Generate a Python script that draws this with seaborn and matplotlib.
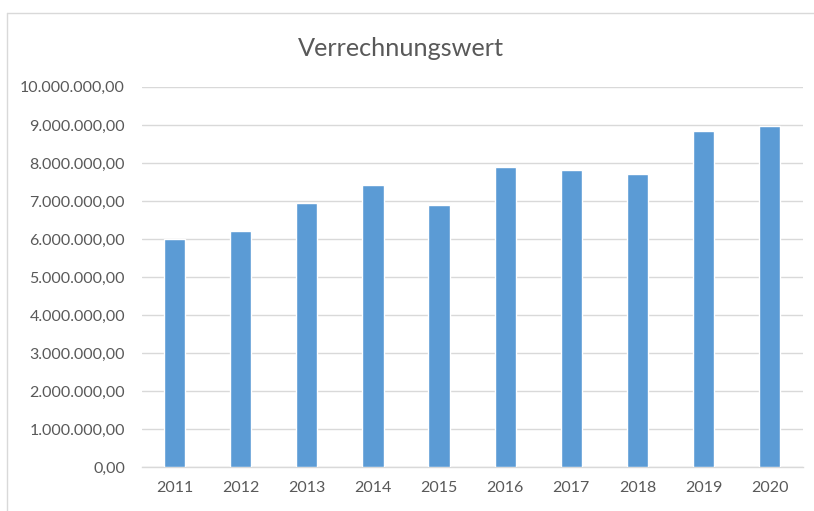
import matplotlib
matplotlib.use("Agg")
import matplotlib.pyplot as plt
import seaborn as sns
import pandas as pd
from matplotlib.ticker import FuncFormatter, MultipleLocator
from matplotlib.lines import Line2D

years = ["2011", "2012", "2013", "2014", "2015", "2016", "2017", "2018", "2019", "2020"]
values = [6010000, 6210000, 6960000, 7410000, 6890000, 7890000, 7820000, 7720000, 8830000, 8960000]
title = "Verrechnungswert"

sns.set_theme(style="white")
plt.rcParams['font.family'] = ['Lato', 'DejaVu Sans']

df = pd.DataFrame({"Jahr": years, "Wert": values})

fig = plt.figure(figsize=(8.14, 5.11), dpi=100)
ax = fig.add_axes([0.174, 0.0855, 0.812, 0.7445])

sns.barplot(data=df, x="Jahr", y="Wert", color="#5B9BD5", width=0.32,
            saturation=1, ax=ax, zorder=3)

ax.set_ylim(0, 10000000)
ax.yaxis.set_major_locator(MultipleLocator(1000000))

def de_fmt(v, pos):
    s = f"{v:,.2f}"
    return s.replace(",", "X").replace(".", ",").replace("X", ".")

ax.yaxis.set_major_formatter(FuncFormatter(de_fmt))
ax.grid(axis="y", color="#D9D9D9", linewidth=1.0, zorder=0)
ax.grid(axis="x", visible=False)
for s in ["top", "right", "left"]:
    ax.spines[s].set_visible(False)
ax.spines["bottom"].set_color("#D9D9D9")
ax.spines["bottom"].set_linewidth(1.0)
ax.set_xlabel("")
ax.set_ylabel("")
ax.tick_params(axis="both", length=0, labelsize=11.5, labelcolor="#595959")
ax.tick_params(axis="y", pad=12)
ax.tick_params(axis="x", pad=10)

fig.text(0.492, 0.905, title, ha="center", va="center", fontsize=18.2, color="#595959")

x0 = 7 / 814
y0 = 1 - 13 / 511
fig.add_artist(Line2D([x0, 1.0], [y0, y0], transform=fig.transFigure,
                      color="#D9D9D9", linewidth=1.0))
fig.add_artist(Line2D([x0, x0], [0.0, y0], transform=fig.transFigure,
                      color="#D9D9D9", linewidth=1.0))

fig.savefig("out.png", dpi=100)
